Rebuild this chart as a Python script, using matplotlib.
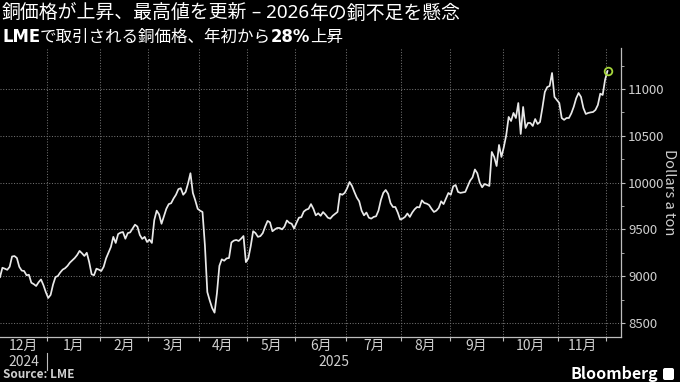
import matplotlib
matplotlib.use("Agg")
import matplotlib.pyplot as plt
import matplotlib.transforms as mtransforms
from matplotlib.patches import FancyBboxPatch
import numpy as np
import pandas as pd

# ── Data: LME copper, USD per ton, one value per LME trading day ──
first_day = "2024-12-02"
last_axis_day = "2025-12-31"
lme_holidays = ["2024-12-25", "2024-12-26", "2025-01-01", "2025-04-18",
                "2025-04-21", "2025-05-05", "2025-05-26", "2025-08-25",
                "2025-12-25", "2025-12-26"]

copper_usd = [
    # Dec 2024
    8990, 9090, 9080, 9068, 9100, 9210, 9215, 9194, 9100, 9060,
    9055, 9010, 9015, 8930, 8915, 8895, 8935, 8965, 8905, 8830,
    # Jan 2025
    8767, 8800, 8910, 8990, 9002, 9040, 9070, 9085, 9110, 9145, 9170,
    9194, 9226, 9270, 9245, 9216, 9250, 9150, 9020, 9010, 9080, 9070,
    # Feb
    9055, 9100, 9190, 9250, 9312, 9420, 9355, 9450, 9465, 9472,
    9400, 9460, 9468, 9510, 9550, 9530, 9440, 9398, 9420, 9365,
    # Mar
    9390, 9355, 9600, 9700, 9660, 9560, 9640, 9720, 9770, 9780, 9830,
    9870, 9930, 9940, 9870, 9900, 9990, 10100, 9890, 9810, 9720,
    # Apr
    9700, 9686, 9330, 8830, 8740, 8660, 8610, 8820, 9110, 9180,
    9165, 9190, 9194, 9360, 9380, 9387, 9376, 9400, 9429, 9150,
    # May
    9190, 9320, 9480, 9460, 9420, 9428, 9460, 9530, 9590, 9575,
    9480, 9500, 9515, 9515, 9500, 9530, 9595, 9570, 9560, 9510,
    # Jun
    9570, 9625, 9630, 9690, 9710, 9720, 9770, 9720, 9650, 9672, 9645,
    9685, 9658, 9625, 9615, 9645, 9665, 9686, 9880, 9870, 9890,
    # Jul
    9940, 10006, 9965, 9900, 9840, 9800, 9700, 9650, 9680, 9625, 9615, 9633,
    9640, 9700, 9814, 9890, 9921, 9880, 9780, 9739, 9739, 9680, 9605,
    # Aug
    9615, 9633, 9670, 9633, 9680, 9715, 9739, 9735, 9810, 9782,
    9775, 9760, 9720, 9686, 9700, 9730, 9800, 9770, 9830, 9889,
    # Sep
    9870, 9960, 9974, 9900, 9890, 9895, 9900, 9960, 10020, 10055, 10140,
    10100, 10000, 9950, 9985, 9975, 9964, 10327, 10274, 10177, 10402, 10274,
    # Oct
    10380, 10508, 10701, 10658, 10744, 10690, 10850, 10519, 10808, 10583, 10637, 10637,
    10605, 10679, 10626, 10647, 10800, 10968, 11021, 11032, 11171, 10915, 10882,
    # Nov
    10850, 10690, 10670, 10690, 10690, 10740, 10810, 10900, 10957, 10915,
    10797, 10733, 10744, 10750, 10754, 10776, 10829, 10950, 10936, 11100,
    # Dec 1
    11192,
]

month_names = ["12月", "1月", "2月", "3月", "4月", "5月", "6月",
               "7月", "8月", "9月", "10月", "11月"]
year_names = ["2024", "2025"]
y_ticks = [8500, 9000, 9500, 10000, 10500, 11000]

title_runs = [("銅価格が上昇、最高値を更新", "normal"), (" – 2026", "bold"),
              ("年の銅不足を懸念", "normal")]
subtitle_runs = [("LME", "bold"), ("で取引される銅価格、年初から", "normal"),
                 ("28%", "bold"), ("上昇", "normal")]

# ── Trading-day axis (Bloomberg spaces points by trading day) ──
cal = pd.bdate_range(first_day, last_axis_day)
cal = cal[~cal.isin(pd.to_datetime(lme_holidays))]
pos = np.arange(len(copper_usd))
x_lo, x_hi = 0.0, 257.6

periods = cal.to_period("M")
starts = [0] + [i for i in range(1, len(cal)) if periods[i] != periods[i - 1]]
bounds = [s - 0.5 for s in starts] + [len(cal) - 0.5]

W, H = 680, 382
CJK = "Noto Sans CJK JP"
NARROW = ["Liberation Sans Narrow", CJK]
GRID = "#707070"
AXIS = "#bdbdbd"
LABEL = "#cfcfcf"

fig = plt.figure(figsize=(W / 100, H / 100), dpi=100, facecolor="black")
ax = fig.add_axes([0, (H - 337) / H, 621 / W, (337 - 48) / H])
ax.set_facecolor("black")

# dotted grid drawn as explicit lines under the price line
for yv in y_ticks:
    ax.axhline(yv, color=GRID, lw=0.75, ls=(0, (1, 1.6)), zorder=1)
for xb in bounds:
    ax.axvline(xb, color=GRID, lw=0.75, ls=(0, (1, 1.6)), zorder=1)

ax.plot(pos, copper_usd, color="#e9e9e9", lw=1.25, solid_joinstyle="round",
        zorder=3)
ax.plot(pos[-1], copper_usd[-1], "o", ms=5.5, mfc="none",
        mec="#a6d63c", mew=1.3, zorder=5)

ax.set_ylim(8350, 11438)

# y axis on the right
ax.yaxis.tick_right()
ax.set_yticks(y_ticks)
ax.set_yticks(np.arange(8500, 11251, 250), minor=True)
ax.set_yticklabels([str(v) for v in y_ticks], family=NARROW, fontsize=9.5,
                   color=LABEL)
ax.tick_params(axis="y", which="major", length=3, width=0.8, color=AXIS, pad=2)
ax.tick_params(axis="y", which="minor", length=2, width=0.6, color=AXIS)
ax.yaxis.set_label_position("right")
ax.set_ylabel("Dollars a ton", rotation=270, color=LABEL, fontsize=10.5,
              family=NARROW, va="center")
ax.yaxis.set_label_coords(669.5 / 621, (337 - 192) / 289)

# x axis: month boundaries as ticks, labels at month centres
ax.set_xticks(bounds)
ax.set_xticklabels([""] * len(bounds))
ax.tick_params(axis="x", which="major", length=3, width=0.8, color=AXIS)
centres, labels = [], []
for i in range(len(starts)):
    a, b = max(bounds[i], x_lo), min(bounds[i + 1], x_hi)
    if b - a > 10:
        centres.append((a + b) / 2)
        labels.append(month_names[len(centres) - 1])
ax.set_xticks(centres, minor=True)
ax.set_xticklabels(labels, minor=True, family=NARROW, fontsize=10, color=LABEL)
ax.tick_params(axis="x", which="minor", length=0, pad=1.5)
ax.set_xlim(x_lo, x_hi)  # set_xticks widened the view, put it back

for side in ("left", "top"):
    ax.spines[side].set_visible(False)
for side in ("right", "bottom"):
    ax.spines[side].set_color(AXIS)
    ax.spines[side].set_linewidth(0.9)

# year row
trans = mtransforms.blended_transform_factory(ax.transData, ax.transAxes)
jan = bounds[1]
ax.text((x_lo + jan) / 2, -0.088, year_names[0], transform=trans, ha="center",
        va="center", family=NARROW, fontsize=10, color=LABEL)
ax.text((jan + x_hi) / 2, -0.088, year_names[1], transform=trans, ha="center",
        va="center", family=NARROW, fontsize=10, color=LABEL)
ax.plot([jan, jan], [-0.055, -0.115], transform=trans, clip_on=False,
        color=AXIS, lw=0.8)

# header and footer in pixel coordinates
ident = mtransforms.IdentityTransform()
renderer = fig.canvas.get_renderer()


def draw_runs(x, y, runs, size, bold_family):
    for s, wt in runs:
        fam = [bold_family, CJK] if wt == "bold" else [CJK]
        t = fig.text(x, H - y, s, transform=ident, fontsize=size, family=fam,
                     weight=wt, color="white", va="center")
        x += t.get_window_extent(renderer).width


draw_runs(2, 13.5, title_runs, 13.6, "Noto Sans")
draw_runs(2, 37, subtitle_runs, 11.9, "DejaVu Sans")

fig.text(3, H - 375, "Source: LME", transform=ident, fontsize=8.5,
         family=NARROW, weight="bold", color=LABEL, va="center")
fig.text(658, H - 374, "Bloomberg", transform=ident, fontsize=11.5,
         family=NARROW, weight="bold", color="white", va="center", ha="right")
fig.patches.append(FancyBboxPatch((663, H - 380), 11, 12, transform=ident,
                                  boxstyle="round,pad=0,rounding_size=2",
                                  fc="white", ec="none", figure=fig))

fig.savefig("out.png", dpi=100, facecolor="black")
